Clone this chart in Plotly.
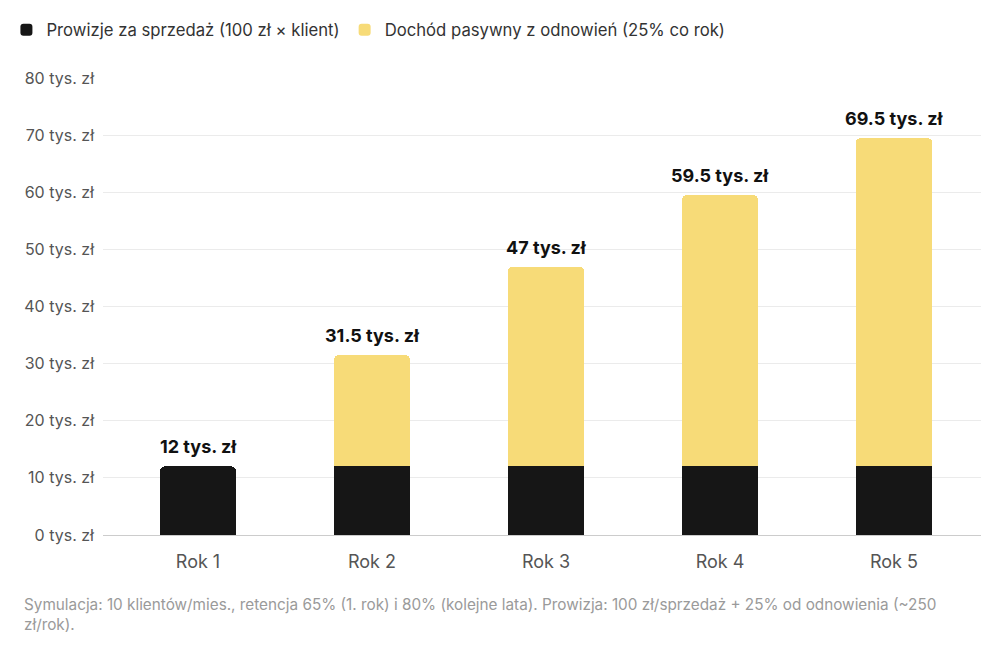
import plotly.graph_objects as go

years = ["Rok 1", "Rok 2", "Rok 3", "Rok 4", "Rok 5"]
sales = [12, 12, 12, 12, 12]
passive = [0, 19.5, 35, 47.5, 57.5]
totals = [12, 31.5, 47, 59.5, 69.5]
tick_vals = [0, 10, 20, 30, 40, 50, 60, 70, 80]
tick_text = [f"{v} tys. zł" for v in tick_vals]

font = "Inter, Roboto, sans-serif"

fig = go.Figure()
fig.add_trace(go.Bar(x=years, y=sales, name="Prowizje za sprzedaż (100 zł × klient)",
                     marker=dict(color="#161616", line=dict(width=0))))
fig.add_trace(go.Bar(x=years, y=passive, name="Dochód pasywny z odnowień (25% co rok)",
                     marker=dict(color="#F7DB78", line=dict(width=0))))

for x, t in zip(years, totals):
    lbl = f"{t:g} tys. zł"
    fig.add_annotation(x=x, y=t, text=f"<b>{lbl}</b>", showarrow=False,
                       yanchor="bottom", yshift=7,
                       font=dict(family=font, size=18, color="#111111"))

# footnote under the chart
fig.add_annotation(xref="paper", yref="paper", x=-0.0923, y=-0.128, xanchor="left", yanchor="top",
                   align="left", showarrow=False,
                   text="Symulacja: 10 klientów/mies., retencja 65% (1. rok) i 80% (kolejne lata). Prowizja: 100 zł/sprzedaż + 25% od odnowienia (~250<br>zł/rok).",
                   font=dict(family=font, size=15.3, color="#9a9a9a"))

fig.update_layout(
    barmode="stack",
    bargap=0.56,
    barcornerradius=5,
    width=1000, height=651,
    margin=dict(l=95, r=27, t=70, b=124, autoexpand=False),
    plot_bgcolor="white", paper_bgcolor="white",
    font=dict(family=font, size=16, color="#444444"),
    legend=dict(orientation="h", x=-0.11, y=1.105, xanchor="left", yanchor="middle",
                font=dict(size=16.7, color="#333333"), traceorder="normal",
                itemwidth=30),
    xaxis=dict(range=[-0.546, 4.5], showgrid=False, showline=True, linecolor="#cccccc", ticks="",
               ticklabelstandoff=10, tickfont=dict(size=18, color="#555555")),
    yaxis=dict(range=[0, 80], tickvals=tick_vals, ticktext=tick_text,
               gridcolor="#ebebeb", zeroline=False, ticks="", ticklabelstandoff=8,
               tickfont=dict(size=16, color="#555555")),
)

fig.write_html("out.html")
